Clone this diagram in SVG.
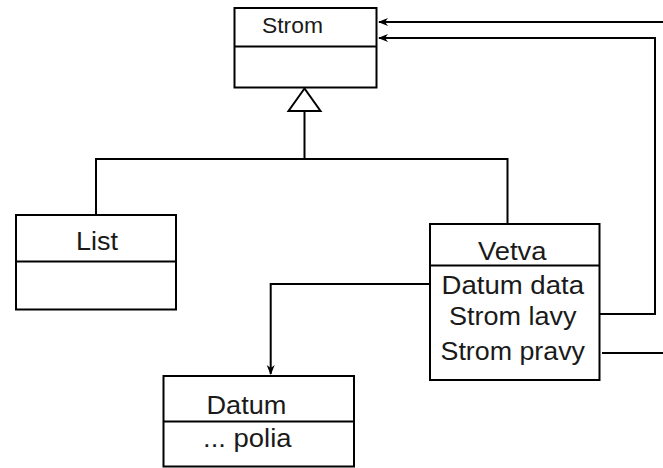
<svg xmlns="http://www.w3.org/2000/svg" width="663" height="468" viewBox="0 0 663 468">
  <style>
    .box { fill: #fff; stroke: #000; stroke-width: 2; }
    .div { stroke: #000; stroke-width: 2; }
    .lbl { font-family: "Liberation Sans", Arial, sans-serif; font-size: 25px; fill: #1a1a1a; }
    .wire { fill: none; stroke: #000; stroke-width: 2; }
  </style>
  <defs>
    <marker id="arrow" viewBox="0 0 10 10" refX="9" refY="5" markerWidth="10" markerHeight="10" markerUnits="userSpaceOnUse" orient="auto">
      <path d="M0,1 L10,5 L0,9 L3,5 Z" fill="#000"/>
    </marker>
  </defs>

  <!-- connectors -->
  <g id="connectors">
    <!-- inheritance: List and Vetva extend Strom -->
    <polygon points="304.5,88.5 288.5,111 320.5,111" fill="#fff" stroke="#000" stroke-width="2"/>
    <path class="wire" d="M304.5,111 V159 M96,215 V159 H507.5 V224"/>
    <!-- Vetva.data -> Datum -->
    <path class="wire" d="M430,284 H270.7 V374" marker-end="url(#arrow)"/>
    <!-- Vetva.lavy -> Strom -->
    <path class="wire" d="M597,314 H655 V38 H379" marker-end="url(#arrow)"/>
    <!-- Vetva.pravy -> Strom -->
    <path class="wire" d="M602,353 H663"/>
    <path class="wire" d="M663,22 H379" marker-end="url(#arrow)"/>
  </g>

  <g id="strom">
    <rect class="box" x="234.5" y="8" width="142" height="79.5"/>
    <line class="div" x1="234.5" y1="46.5" x2="376.5" y2="46.5"/>
    <text class="lbl" x="262" y="33" style="font-size:22px" textLength="61" lengthAdjust="spacingAndGlyphs">Strom</text>
  </g>

  <g id="list">
    <rect class="box" x="16" y="215" width="160" height="94.5"/>
    <line class="div" x1="16" y1="261.5" x2="176" y2="261.5"/>
    <text class="lbl" x="76" y="250" textLength="42" lengthAdjust="spacingAndGlyphs">List</text>
  </g>

  <g id="vetva">
    <rect class="box" x="430" y="224" width="169.5" height="156"/>
    <line class="div" x1="430" y1="265.5" x2="599.5" y2="265.5"/>
    <text class="lbl" x="478" y="260" textLength="68.5" lengthAdjust="spacingAndGlyphs">Vetva</text>
    <text class="lbl" x="441.5" y="293.5" textLength="142.5" lengthAdjust="spacingAndGlyphs">Datum data</text>
    <text class="lbl" x="449" y="325" textLength="127.5" lengthAdjust="spacingAndGlyphs">Strom lavy</text>
    <text class="lbl" x="440.5" y="360" textLength="144.5" lengthAdjust="spacingAndGlyphs">Strom pravy</text>
  </g>

  <g id="datum">
    <rect class="box" x="163.5" y="376" width="190.5" height="90.5"/>
    <line class="div" x1="163.5" y1="421.5" x2="354" y2="421.5"/>
    <text class="lbl" x="206.5" y="414" textLength="80" lengthAdjust="spacingAndGlyphs">Datum</text>
    <text class="lbl" x="203" y="447" textLength="88.5" lengthAdjust="spacingAndGlyphs">... polia</text>
  </g>
</svg>
